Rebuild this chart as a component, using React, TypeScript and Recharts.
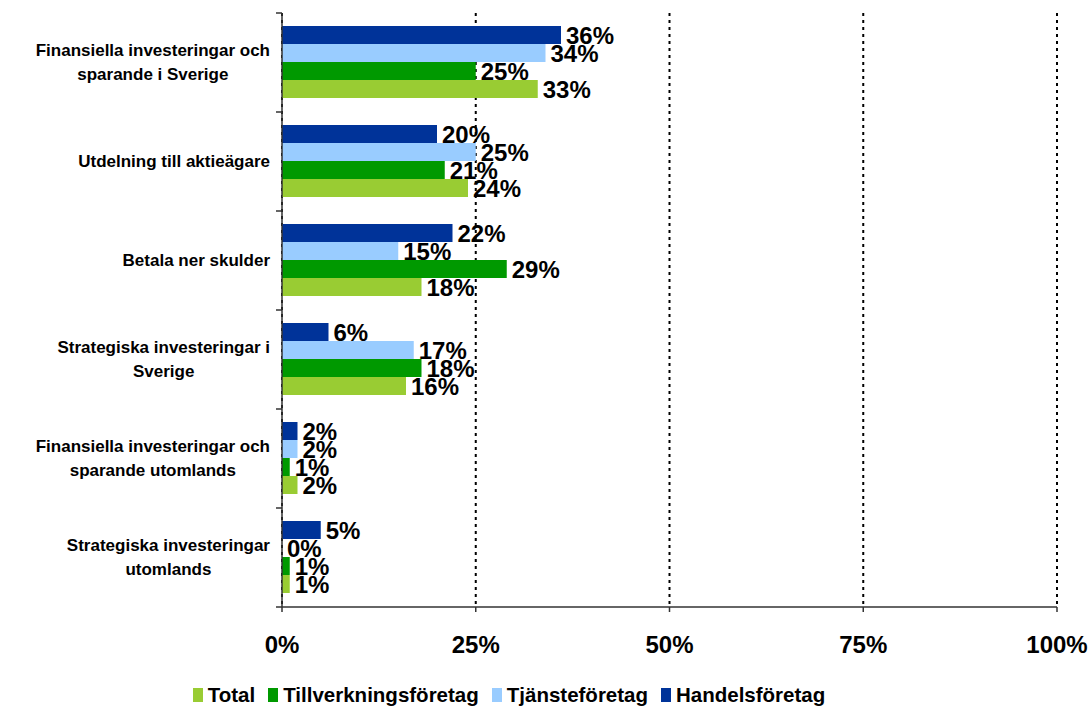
import { BarChart, Bar, XAxis, YAxis, CartesianGrid, LabelList } from 'recharts';

// categories, top to bottom; '\n' marks the line break used in the picture
const categories = [
  'Finansiella investeringar och\nsparande i Sverige',
  'Utdelning till aktieägare',
  'Betala ner skulder',
  'Strategiska investeringar i\nSverige',
  'Finansiella investeringar och\nsparande utomlands',
  'Strategiska investeringar\nutomlands',
];

const handels = [36, 20, 22, 6, 2, 5];
const tjanste = [34, 25, 15, 17, 2, 0];
const tillverkning = [25, 21, 29, 18, 1, 1];
const total = [33, 24, 18, 16, 2, 1];

const xTicks = [0, 25, 50, 75, 100];

// bar order inside each group (top to bottom)
const series = [
  { key: 'handels', name: 'Handelsföretag', color: '#003399', values: handels },
  { key: 'tjanste', name: 'Tjänsteföretag', color: '#99CCFF', values: tjanste },
  { key: 'tillverkning', name: 'Tillverkningsföretag', color: '#009900', values: tillverkning },
  { key: 'total', name: 'Total', color: '#99CC33', values: total },
];

// legend shows them the other way round
const legendOrder = ['total', 'tillverkning', 'tjanste', 'handels'];

const data = categories.map((c, i) => {
  const row: Record<string, string | number> = { category: c };
  series.forEach((s) => {
    row[s.key] = s.values[i];
  });
  return row;
});

const W = 1090;
const H = 709;
const margin = { top: 13, right: 33, left: 0, bottom: 42 };
const xAxisHeight = 60;
const yAxisWidth = 282;
const band = (H - margin.top - margin.bottom - xAxisHeight) / categories.length;

const FONT = '"Liberation Sans", Arial, sans-serif';
const CAT_SIZE = 17;

let canvasCtx: CanvasRenderingContext2D | null = null;
function measure(text: string) {
  if (!canvasCtx) canvasCtx = document.createElement('canvas').getContext('2d');
  if (!canvasCtx) return text.length * 9;
  canvasCtx.font = `bold ${CAT_SIZE}px ${FONT}`;
  return canvasCtx.measureText(text).width;
}

// eslint-disable-next-line @typescript-eslint/no-explicit-any
function CategoryTick(props: any) {
  const { x, y, payload, index } = props;
  const lines: string[] = String(payload.value).split('\n');
  const w = Math.max(...lines.map(measure));
  const cx = x - w / 2;
  const lh = 24;
  const startY = y - ((lines.length - 1) * lh) / 2;
  const axisX = x + 12;
  return (
    <g>
      <line x1={axisX - 6} x2={axisX} y1={y - band / 2} y2={y - band / 2} stroke="#333" strokeWidth={1.5} />
      {index === categories.length - 1 && (
        <line x1={axisX - 6} x2={axisX} y1={y + band / 2} y2={y + band / 2} stroke="#333" strokeWidth={1.5} />
      )}
      <text textAnchor="middle" fontFamily={FONT} fontWeight="bold" fontSize={CAT_SIZE} fill="#000">
        {lines.map((l, i) => (
          <tspan key={i} x={cx} y={startY + i * lh} dy="0.35em">
            {l}
          </tspan>
        ))}
      </text>
    </g>
  );
}

export default function App() {
  const legendItems = legendOrder.map((k) => series.find((s) => s.key === k)!);
  return (
    <div style={{ position: 'absolute', left: 0, top: 0, width: W, height: H, background: '#fff' }}>
      <BarChart
        width={W}
        height={H}
        data={data}
        layout="vertical"
        margin={margin}
        barCategoryGap={13}
        barGap={0}
      >
        <CartesianGrid
          horizontal={false}
          stroke="#000"
          strokeWidth={2}
          strokeDasharray="3 4"
        />
        <XAxis
          type="number"
          domain={[0, 100]}
          ticks={xTicks}
          tickFormatter={(v) => `${v}%`}
          height={xAxisHeight}
          tickSize={5}
          tickMargin={24}
          stroke="#333"
          strokeWidth={1.5}
          tick={{ fontSize: 24, fontWeight: 'bold', fill: '#000', fontFamily: FONT }}
        />
        <YAxis
          type="category"
          dataKey="category"
          width={yAxisWidth}
          tickSize={0}
          tickMargin={12}
          tickLine={false}
          stroke="#333"
          strokeWidth={1.5}
          interval={0}
          tick={<CategoryTick />}
        />
        {series.map((s) => (
          <Bar
            key={s.key}
            dataKey={s.key}
            name={s.name}
            fill={s.color}
            minPointSize={0.01}
            isAnimationActive={false}
          >
            <LabelList
              dataKey={s.key}
              position="right"
              offset={5}
              formatter={(v) => `${v}%`}
              fill="#000"
              fontSize={24}
              fontWeight="bold"
              fontFamily={FONT}
            />
          </Bar>
        ))}
      </BarChart>
      <div
        style={{
          position: 'absolute',
          left: 0,
          width: 1018,
          top: 683,
          display: 'flex',
          justifyContent: 'center',
          gap: 13,
          fontFamily: FONT,
          fontWeight: 'bold',
          fontSize: 20.5,
          color: '#000',
        }}
      >
        {legendItems.map((s) => (
          <div key={s.key} style={{ display: 'flex', alignItems: 'center', gap: 5 }}>
            <span style={{ display: 'inline-block', width: 10, height: 14, background: s.color }} />
            <span>{s.name}</span>
          </div>
        ))}
      </div>
    </div>
  );
}
